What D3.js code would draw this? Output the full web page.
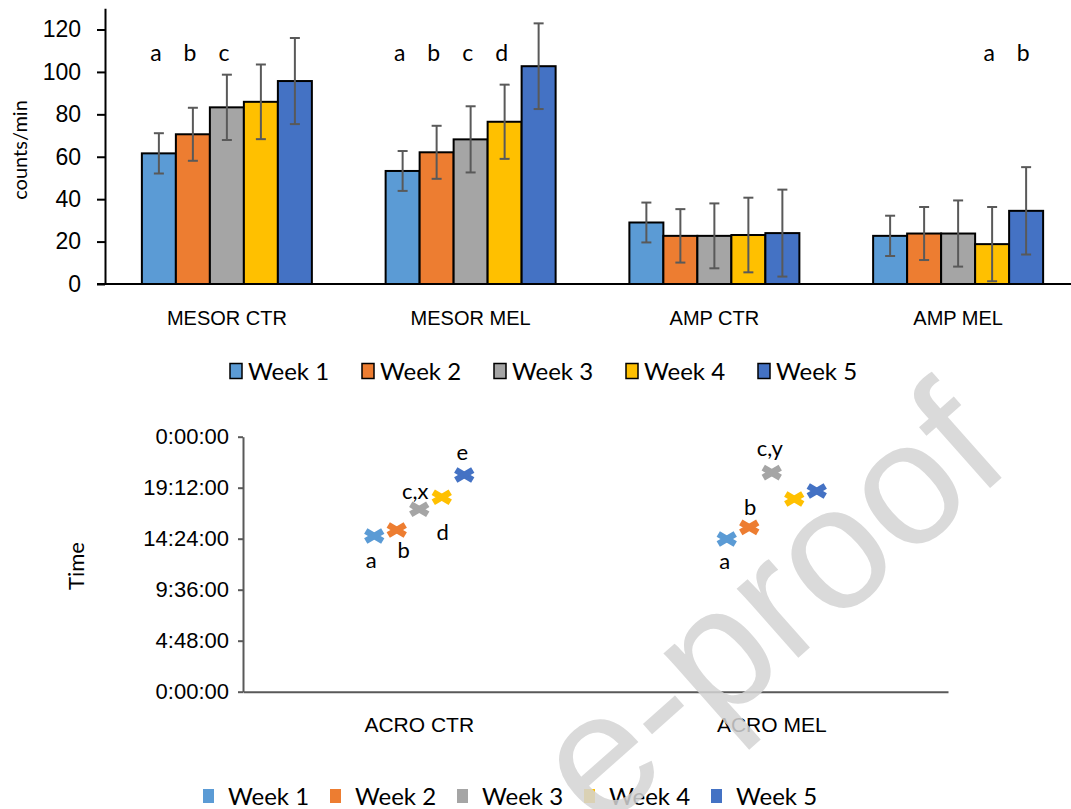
<!DOCTYPE html>
<html>
<head>
<meta charset="utf-8">
<script src="https://cdn.jsdelivr.net/npm/d3@7"></script>
<style>
  body { margin: 0; background: #fff; }
  svg { display: block; font-family: Lato, "Open Sans", sans-serif; }
</style>
</head>
<body>
<svg id="chart" width="1071" height="809"></svg>
<script>
// ---- Cosinor parameters per week ----
const categories = ["MESOR CTR", "MESOR MEL", "AMP CTR", "AMP MEL"];
const weekNames = ["Week 1", "Week 2", "Week 3", "Week 4", "Week 5"];

const week1Mean = [61.6, 53.3, 29.0, 22.7];
const week2Mean = [70.6, 62.1, 22.7, 23.8];
const week3Mean = [83.3, 68.2, 22.7, 23.8];
const week4Mean = [85.9, 76.5, 23.1, 18.8];
const week5Mean = [95.7, 102.7, 24.0, 34.5];

const week1Sd = [9.5, 9.4, 9.4, 9.5];
const week2Sd = [12.5, 12.5, 12.6, 12.5];
const week3Sd = [15.4, 15.6, 15.3, 15.6];
const week4Sd = [17.6, 17.5, 17.6, 17.5];
const week5Sd = [20.3, 20.2, 20.5, 20.6];

const countTicks = [0, 20, 40, 60, 80, 100, 120];

// significance letters, one row per category, one entry per week
const countLetters = [
  ["a", "b", "c", "", ""],
  ["a", "b", "c", "d", ""],
  ["", "", "", "", ""],
  ["", "", "", "a", "b"]
];

// ---- Acrophase (clock time) per week ----
const acroCategories = ["ACRO CTR", "ACRO MEL"];
const acroCtr = ["14:39", "15:13", "17:10", "18:18", "20:24"];
const acroMel = ["14:22", "15:28", "20:37", "18:08", "18:53"];
const acroCtrLetters = ["a", "b", "c,x", "d", "e"];
const acroMelLetters = ["a", "b", "c,y", "", ""];
const timeTicks = [0, 4.8, 9.6, 14.4, 19.2, 24];

const weekColors = ["#5B9BD5", "#ED7D31", "#A5A5A5", "#FFC000", "#4472C4"];

const means = [week1Mean, week2Mean, week3Mean, week4Mean, week5Mean];
const sds = [week1Sd, week2Sd, week3Sd, week4Sd, week5Sd];

const svg = d3.select("#chart");

// ================= upper panel: grouped bars =================
const gTop = svg.append("g");
const x0 = d3.scaleBand().domain(categories).range([105, 1080]);
const x1 = d3.scaleBand().domain(weekNames).range([-85, 85]);
const y = d3.scaleLinear().domain([0, 130]).range([284, 8.3]);

const yAxis = gTop.append("g")
  .attr("transform", "translate(105,0)")
  .call(d3.axisLeft(y).tickValues(countTicks).tickSize(8).tickSizeOuter(0).tickPadding(16));
yAxis.selectAll("path, line").attr("stroke", "#000").attr("stroke-width", 2);
yAxis.selectAll("text").attr("font-size", 23).attr("fill", "#000");

const barData = [];
categories.forEach((c, ci) => weekNames.forEach((w, wi) => {
  barData.push({ cat: c, week: w, wi, value: means[wi][ci], sd: sds[wi][ci], letter: countLetters[ci][wi] });
}));
const barX = d => x0(d.cat) + x0.bandwidth() / 2 + x1(d.week);

gTop.selectAll("rect.bar").data(barData).join("rect")
  .attr("class", "bar")
  .attr("x", barX)
  .attr("width", x1.bandwidth())
  .attr("y", d => y(d.value))
  .attr("height", d => y(0) - y(d.value))
  .attr("fill", d => weekColors[d.wi])
  .attr("stroke", "#000")
  .attr("stroke-width", 2);

// error bars
const eb = gTop.selectAll("g.err").data(barData).join("g").attr("class", "err")
  .attr("transform", d => `translate(${barX(d) + x1.bandwidth() / 2},0)`)
  .attr("stroke", "#595959").attr("stroke-width", 2);
eb.append("line").attr("y1", d => y(d.value + d.sd)).attr("y2", d => y(Math.max(0, d.value - d.sd)));
eb.append("line").attr("x1", -5).attr("x2", 5).attr("y1", d => y(d.value + d.sd)).attr("y2", d => y(d.value + d.sd));
eb.append("line").attr("x1", -5).attr("x2", 5).attr("y1", d => y(Math.max(0, d.value - d.sd))).attr("y2", d => y(Math.max(0, d.value - d.sd)));

// letters
gTop.selectAll("text.sig").data(barData.filter(d => d.letter)).join("text")
  .attr("class", "sig")
  .attr("x", d => barX(d) + x1.bandwidth() / 2 - 3)
  .attr("y", 61)
  .attr("text-anchor", "middle")
  .attr("font-size", 23)
  .attr("fill", "#000")
  .text(d => d.letter);

// category axis
const xAxis = gTop.append("g")
  .attr("transform", `translate(0,${y(0)})`)
  .call(d3.axisBottom(x0).tickSize(0).tickSizeOuter(0).tickPadding(27));
xAxis.select(".domain").attr("stroke", "#000").attr("stroke-width", 2)
  .attr("d", "M97,0H1071");
xAxis.selectAll("text").attr("font-size", 20).attr("fill", "#000");

// y title
gTop.append("text")
  .attr("transform", "translate(27,150) rotate(-90)")
  .attr("text-anchor", "middle")
  .attr("font-size", 20)
  .attr("fill", "#000")
  .text("counts/min");

// legend
const legTop = gTop.append("g").attr("transform", "translate(0,371)");
const legTopItems = legTop.selectAll("g").data(weekNames).join("g")
  .attr("transform", (d, i) => `translate(${230 + i * 132},0)`);
legTopItems.append("rect").attr("x", 0).attr("y", -7.5).attr("width", 12).attr("height", 15)
  .attr("fill", (d, i) => weekColors[i]).attr("stroke", "#000").attr("stroke-width", 1.5);
legTopItems.append("text").attr("x", 18).attr("dy", "0.36em").attr("font-size", 24).attr("fill", "#000").text(d => d);

// ================= lower panel: acrophase markers =================
const gBot = svg.append("g");
const xa = d3.scaleBand().domain(acroCategories).range([243, 948]);
const xw = d3.scalePoint().domain(weekNames).range([-45, 45]);
const yt = d3.scaleLinear().domain([0, 24]).range([691.7, 436.7]);

const toHours = s => { const [h, m] = s.split(":").map(Number); return h + m / 60; };
const fmtTime = h => {
  const total = Math.round((h % 24) * 60);
  return `${Math.floor(total / 60)}:${String(total % 60).padStart(2, "0")}:00`;
};

const yAxisB = gBot.append("g")
  .attr("transform", "translate(243,0)")
  .call(d3.axisLeft(yt).tickValues(timeTicks).tickFormat(fmtTime).tickSize(5).tickSizeOuter(0).tickPadding(9));
yAxisB.selectAll("path, line").attr("stroke", "#595959").attr("stroke-width", 2);
yAxisB.selectAll("text").attr("font-size", 22).attr("fill", "#000");

const xAxisB = gBot.append("g")
  .attr("transform", `translate(0,${yt(0)})`)
  .call(d3.axisBottom(xa).tickSize(0).tickSizeOuter(0).tickPadding(25));
xAxisB.select(".domain").attr("stroke", "#595959").attr("stroke-width", 2);
xAxisB.selectAll("text").attr("font-size", 21).attr("fill", "#000");

gBot.append("text")
  .attr("transform", "translate(84,566) rotate(-90)")
  .attr("text-anchor", "middle")
  .attr("font-size", 22)
  .attr("fill", "#000")
  .text("Time");

const acroData = [];
[acroCtr, acroMel].forEach((arr, ci) => arr.forEach((t, wi) => {
  acroData.push({ cat: acroCategories[ci], week: weekNames[wi], wi, hours: toHours(t),
                  letter: (ci === 0 ? acroCtrLetters : acroMelLetters)[wi], key: ci + "-" + wi });
}));
const acroX = d => xa(d.cat) + xa.bandwidth() / 2 + xw(d.week);

const marker = gBot.selectAll("g.mk").data(acroData).join("g").attr("class", "mk")
  .attr("transform", d => `translate(${acroX(d)},${yt(d.hours)})`)
  .attr("stroke", d => weekColors[d.wi]).attr("stroke-width", 6.5).attr("stroke-linecap", "butt");
marker.append("line").attr("x1", -8.5).attr("y1", -5).attr("x2", 8.5).attr("y2", 5);
marker.append("line").attr("x1", -8.5).attr("y1", 5).attr("x2", 8.5).attr("y2", -5);

// hand-placed label offsets (dx, dy) relative to each marker
const letterOffsets = {
  "0-0": [-3, 24], "0-1": [7, 20], "0-2": [-4, -18], "0-3": [1, 35], "0-4": [-2, -23],
  "1-0": [-2, 22], "1-1": [1, -20], "1-2": [-2, -25]
};
gBot.selectAll("text.lab").data(acroData.filter(d => d.letter)).join("text")
  .attr("class", "lab")
  .attr("x", d => acroX(d) + letterOffsets[d.key][0])
  .attr("y", d => yt(d.hours) + letterOffsets[d.key][1])
  .attr("dy", "0.36em")
  .attr("text-anchor", "middle")
  .attr("font-size", 22)
  .attr("fill", "#000")
  .text(d => d.letter);

// legend
const legBot = gBot.append("g").attr("transform", "translate(0,796)");
const legBotItems = legBot.selectAll("g").data(weekNames).join("g")
  .attr("transform", (d, i) => `translate(${203 + i * 127},0)`);
legBotItems.append("rect").attr("x", 0).attr("y", -7).attr("width", 11).attr("height", 14)
  .attr("fill", (d, i) => weekColors[i]);
legBotItems.append("text").attr("x", 25).attr("dy", "0.36em").attr("font-size", 24).attr("fill", "#000").text(d => d);

// ================= watermark (only its visible tail lies on the page) =================
svg.append("text")
  .attr("transform", "translate(1015,466) rotate(-41.5)")
  .attr("text-anchor", "end")
  .attr("font-family", "Liberation Sans, Arial, sans-serif")
  .attr("font-size", 175)
  .attr("fill", "#d4d4d4")
  .attr("opacity", 0.85)
  .text("e-proof");
</script>
</body>
</html>
